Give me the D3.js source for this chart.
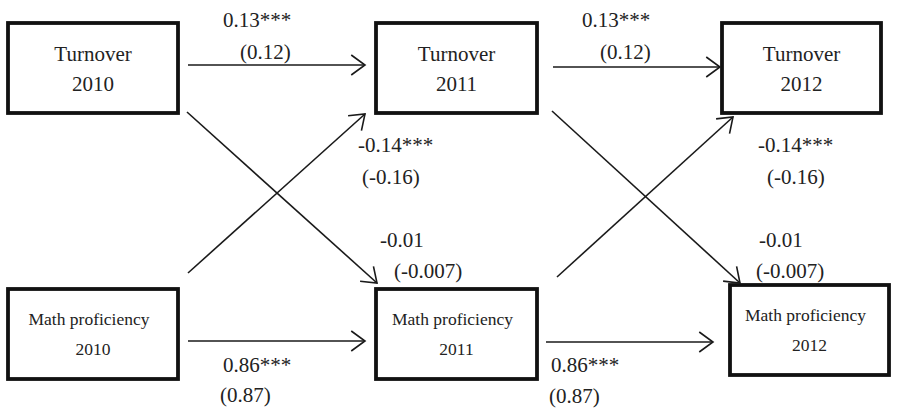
<!DOCTYPE html>
<html>
<head>
<meta charset="utf-8">
<script src="https://cdn.jsdelivr.net/npm/d3@7"></script>
<style>
  html, body { margin: 0; padding: 0; background: #fff; }
  svg { display: block; }
</style>
</head>
<body>
<div id="chart"></div>
<script>
// chart data
var years = ["2010", "2011", "2012"];
var constructs = ["Turnover", "Math proficiency"];
// paths: [from construct, from year index, to construct, to year index]
var pathFrom = [
  ["Turnover", 0], ["Turnover", 1],
  ["Math proficiency", 0], ["Math proficiency", 1],
  ["Math proficiency", 0], ["Math proficiency", 1],
  ["Turnover", 0], ["Turnover", 1]
];
var pathTo = [
  ["Turnover", 1], ["Turnover", 2],
  ["Math proficiency", 1], ["Math proficiency", 2],
  ["Turnover", 1], ["Turnover", 2],
  ["Math proficiency", 1], ["Math proficiency", 2]
];
var estimates = ["0.13***", "0.13***", "0.86***", "0.86***", "-0.14***", "-0.14***", "-0.01", "-0.01"];
var stdEstimates = ["(0.12)", "(0.12)", "(0.87)", "(0.87)", "(-0.16)", "(-0.16)", "(-0.007)", "(-0.007)"];

// layout (positions only)
var width = 913, height = 409;
var boxLeft = {
  "Turnover": d3.scaleOrdinal().domain(years).range([8, 376, 722]),
  "Math proficiency": d3.scaleOrdinal().domain(years).range([8, 376, 730])
};
var boxTop = {
  "Turnover": d3.scaleOrdinal().domain(years).range([23, 23, 23]),
  "Math proficiency": d3.scaleOrdinal().domain(years).range([289, 289, 285])
};
var boxWidth = d3.scaleOrdinal().domain(years).range([170, 161, 159]);
var boxHeight = 90;
// endpoint offsets for each path [dx start, dy start, dx end, dy end]
var pathPad = [
  [10, 42, -11, 42], [16, 44, -2, 44],
  [10, 52, -11, 52], [9, 53, -17, 53],
  [10, -16, -11, 1], [20, -12, 11, 4],
  [9, -1, 1, -6], [15, -2, 10, -2]
];
// label anchors [x, baseline] for estimate and std estimate
var labelPos = [
  [[223, 27], [240, 59]], [[582, 27], [600, 59]],
  [[223, 372], [220, 402]], [[551, 372], [549, 403]],
  [[358, 152], [362, 184]], [[758, 152], [767, 184]],
  [[380, 247], [394, 278]], [[759, 247], [756, 278]]
];

function box(c, yi) {
  var y = years[yi];
  var x0 = boxLeft[c](y), y0 = boxTop[c](y), w = boxWidth(y);
  return { x: x0, y: y0, w: w, h: boxHeight, right: x0 + w, bottom: y0 + boxHeight };
}

var svg = d3.select("#chart").append("svg")
  .attr("width", width)
  .attr("height", height);

var font = "'Liberation Serif'";

// boxes
var nodes = [];
constructs.forEach(function (c) {
  years.forEach(function (y, i) {
    nodes.push({ construct: c, year: y, b: box(c, i) });
  });
});

svg.selectAll("rect.node")
  .data(nodes)
  .enter()
  .append("rect")
  .attr("class", "node")
  .attr("x", function (d) { return d.b.x; })
  .attr("y", function (d) { return d.b.y; })
  .attr("width", function (d) { return d.b.w; })
  .attr("height", function (d) { return d.b.h; })
  .attr("fill", "none")
  .attr("stroke", "#111")
  .attr("stroke-width", 3.8);

// paths
var edges = pathFrom.map(function (f, i) {
  var t = pathTo[i];
  var s = box(f[0], f[1]), e = box(t[0], t[1]);
  var p = pathPad[i];
  var x1 = s.right + p[0], x2 = e.x + p[2], y1, y2;
  if (f[0] == t[0]) {
    y1 = s.y + p[1];
    y2 = s.y + p[3];
  } else if (f[0] == "Turnover") {
    y1 = s.bottom + p[1];
    y2 = e.y + p[3];
  } else {
    y1 = s.y + p[1];
    y2 = e.bottom + p[3];
  }
  return { x1: x1, y1: y1, x2: x2, y2: y2, est: estimates[i], se: stdEstimates[i], lab: labelPos[i] };
});

var line = d3.line();
var headLen = 17, headAngle = 36 * Math.PI / 180;

svg.selectAll("path.shaft")
  .data(edges)
  .enter()
  .append("path")
  .attr("class", "shaft")
  .attr("d", function (d) { return line([[d.x1, d.y1], [d.x2, d.y2]]); })
  .attr("fill", "none")
  .attr("stroke", "#1a1a1a")
  .attr("stroke-width", 1.6);

svg.selectAll("path.head")
  .data(edges)
  .enter()
  .append("path")
  .attr("class", "head")
  .attr("d", function (d) {
    var a = Math.atan2(d.y2 - d.y1, d.x2 - d.x1);
    var p1 = [d.x2 - headLen * Math.cos(a - headAngle), d.y2 - headLen * Math.sin(a - headAngle)];
    var p2 = [d.x2 - headLen * Math.cos(a + headAngle), d.y2 - headLen * Math.sin(a + headAngle)];
    return line([p1, [d.x2, d.y2], p2]);
  })
  .attr("fill", "none")
  .attr("stroke", "#1a1a1a")
  .attr("stroke-width", 1.6);

// all texts straight under the svg
var texts = [];
nodes.forEach(function (d) {
  var big = d.construct == "Turnover";
  texts.push({ x: d.b.x + d.b.w / 2 - (big ? 0 : 4), y: d.b.y + (big ? 38 : 36), s: big ? 21 : 17.5, a: "middle", t: d.construct });
  texts.push({ x: d.b.x + d.b.w / 2, y: d.b.y + (big ? 68 : 66), s: big ? 21 : 17.5, a: "middle", t: d.year });
});
edges.forEach(function (d) {
  texts.push({ x: d.lab[0][0], y: d.lab[0][1], s: 21, a: "start", t: d.est });
  texts.push({ x: d.lab[1][0], y: d.lab[1][1], s: 21, a: "start", t: d.se });
});

svg.selectAll("text.lab")
  .data(texts)
  .enter()
  .append("text")
  .attr("class", "lab")
  .attr("x", function (d) { return d.x; })
  .attr("y", function (d) { return d.y; })
  .attr("text-anchor", function (d) { return d.a; })
  .style("font-family", font)
  .style("font-size", function (d) { return d.s + "px"; })
  .attr("fill", "#222")
  .text(function (d) { return d.t; });
</script>
</body>
</html>
